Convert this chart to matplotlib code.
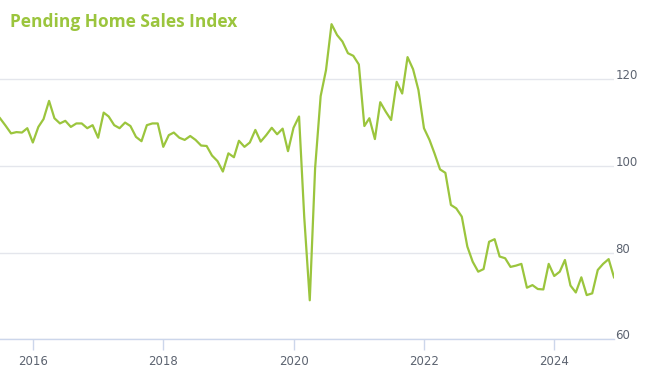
import numpy as np
import pandas as pd
import matplotlib
matplotlib.use("Agg")
import matplotlib.pyplot as plt
import matplotlib.dates as mdates

# monthly index, Jul 2015 - Dec 2024
start = "2015-07-01"
values = [
    111.0, 109.3, 107.5, 107.8, 107.7, 108.7,                     # 2015 H2
    105.4, 109.0, 110.8, 115.0, 111.0, 109.8, 110.4, 109.0, 109.8, 109.8, 108.7, 109.4,  # 2016
    106.5, 112.3, 111.4, 109.4, 108.7, 110.0, 109.2, 106.7, 105.7, 109.4, 109.8, 109.8,  # 2017
    104.4, 107.1, 107.7, 106.5, 106.0, 106.9, 106.0, 104.7, 104.6, 102.4, 101.1, 98.7,   # 2018
    102.9, 102.0, 105.8, 104.4, 105.4, 108.3, 105.6, 107.1, 108.8, 107.3, 108.6, 103.4,  # 2019
    108.8, 111.4, 88.2, 69.0, 99.5, 116.1, 122.1, 132.7, 130.2, 128.7, 126.0, 125.4,     # 2020
    123.4, 109.2, 111.0, 106.2, 114.7, 112.5, 110.6, 119.4, 116.7, 125.1, 122.3, 117.5,  # 2021
    108.7, 106.0, 102.9, 99.2, 98.4, 91.0, 90.2, 88.3, 81.4, 77.9, 75.6, 76.2,           # 2022
    82.5, 83.1, 79.1, 78.7, 76.7, 77.0, 77.4, 71.9, 72.5, 71.6, 71.5, 77.4,              # 2023
    74.6, 75.6, 78.3, 72.4, 70.8, 74.3, 70.2, 70.6, 76.0, 77.4, 78.5, 74.3,              # 2024
]
dates = pd.date_range(start, periods=len(values), freq="MS")
tick_years = [2016, 2018, 2020, 2022, 2024]
y_ticks = [60, 80, 100, 120]

green = "#9bc53d"
label_col = "#5c6370"

fig = plt.figure(figsize=(6.5, 3.82), dpi=100)
ax = fig.add_axes([0, 42.7 / 382, 614 / 650, (339.3 - 14.2) / 382])

ax.plot(dates, values, color=green, lw=1.6, solid_joinstyle="round", zorder=3)

ax.set_xlim(dates[0], dates[-1])
ax.set_ylim(60, 135)

ax.set_yticks(y_ticks)
ax.grid(axis="y", color="#e4e6ec", lw=1)
ax.set_axisbelow(True)
ax.yaxis.tick_right()
ax.tick_params(axis="y", length=0, pad=1, labelsize=8.5, labelcolor=label_col)
for lab in ax.get_yticklabels():
    lab.set_verticalalignment("baseline")

ax.set_xticks([pd.Timestamp(f"{y}-01-01") for y in tick_years])
ax.xaxis.set_major_formatter(mdates.DateFormatter("%Y"))
ax.tick_params(axis="x", length=8, width=1, color="#ccd6eb", pad=3,
               labelsize=8.5, labelcolor=label_col)

for s in ["top", "left", "right"]:
    ax.spines[s].set_visible(False)
ax.spines["bottom"].set_color("#ccd6eb")
ax.spines["bottom"].set_linewidth(1)

fig.text(10 / 650, 1 - 22 / 382, "Pending Home Sales Index", color=green,
         fontsize=12.5, fontweight="bold", family="Open Sans", va="center", ha="left")

fig.savefig("out.png", dpi=100)
